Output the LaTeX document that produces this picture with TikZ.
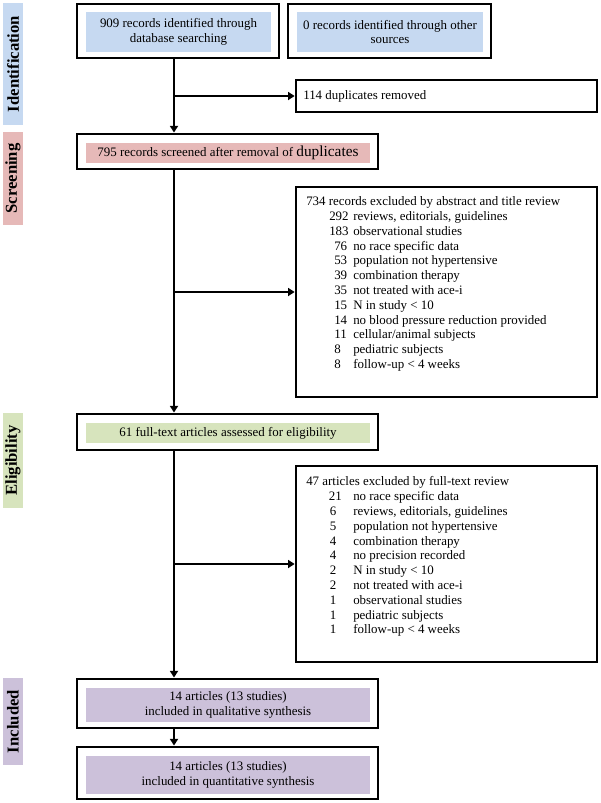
\documentclass[tikz,border=0pt]{standalone}
\usepackage{fontspec}
\setmainfont{Liberation Serif}
\usetikzlibrary{arrows.meta}
\definecolor{cblue}{RGB}{198,217,241}
\definecolor{cpink}{RGB}{230,185,184}
\definecolor{cgreen}{RGB}{215,228,189}
\definecolor{cpurple}{RGB}{204,193,218}
\newcommand\exrow[3]{\hspace*{#1}\makebox[\dimexpr35.25pt-#1\relax][l]{#2}#3}
\begin{document}
\begin{tikzpicture}[x=0.75pt,y=-0.75pt,
  outerbox/.style={draw, line width=2.2pt, inner sep=0pt},
  innerbox/.style={inner sep=0pt, align=center, font=\fontsize{9.7}{11}\selectfont},
  stage/.style={rotate=90, inner sep=0pt, minimum height=15pt, font=\bfseries\fontsize{12.5}{14}\selectfont},
  exclbox/.style={draw, line width=2pt, inner sep=0pt, minimum width=225.75pt},
  extext/.style={inner sep=0pt, align=left, anchor=north west, font=\fontsize{9.7}{11.1}\selectfont},
  arr/.style={line width=1.5pt, -{Triangle[length=5pt,width=6pt]}},
  ln/.style={line width=1.5pt}]
\useasboundingbox (0,0) rectangle (600,803);

% stage labels
\node[stage, fill=cblue,   minimum width=91.5pt]  (sid) at (13,64)    {Identification};
\node[stage, fill=cpink,   minimum width=69.75pt] (ssc) at (13,178.5) {Screening};
\node[stage, fill=cgreen,  minimum width=71.25pt] (sel) at (13,460.5) {Eligibility};
\node[stage, fill=cpurple, minimum width=65.25pt] (sin) at (13,721.5) {Included};

% identification boxes
\node[outerbox, minimum width=151.5pt, minimum height=40.5pt] (A) at (178,31) {};
\node[innerbox, fill=cblue, minimum width=138.75pt, minimum height=30pt] (Ai) at (178.5,32)
  {909 records identified through\\database searching};
\node[outerbox, minimum width=152.25pt, minimum height=40.5pt] (B) at (389.5,31) {};
\node[innerbox, fill=cblue, minimum width=139.5pt, minimum height=30pt] (Bi) at (390,32)
  {0 records identified through other\\sources};

% duplicates removed
\node[exclbox, minimum height=24pt] (D) at (446.5,96) {};
\node[innerbox, anchor=west] (Dt) at (303,96.5) {114 duplicates removed};

% screening
\node[outerbox, minimum width=225.75pt, minimum height=26.25pt] (S) at (227.5,151.5) {};
\node[innerbox, fill=cpink, minimum width=213pt, minimum height=15pt] (Si) at (228,153)
  {795 records screened after removal of {\fontsize{11.5}{12}\selectfont duplicates}};

% exclusion 1
\node[exclbox, minimum height=157.5pt] (E1) at (446.5,292) {};
\node[extext] (E1t) at (306,196.5) {%
734 records excluded by abstract and title review\\
\exrow{17.25pt}{292}{reviews, editorials, guidelines}\\
\exrow{17.25pt}{183}{observational studies}\\
\exrow{21pt}{76}{no race specific data}\\
\exrow{21pt}{53}{population not hypertensive}\\
\exrow{21pt}{39}{combination therapy}\\
\exrow{21pt}{35}{not treated with ace-i}\\
\exrow{21pt}{15}{N in study < 10}\\
\exrow{21pt}{14}{no blood pressure reduction provided}\\
\exrow{21pt}{11}{cellular/animal subjects}\\
\exrow{21pt}{8}{pediatric subjects}\\
\exrow{21pt}{8}{follow-up < 4 weeks}};

% eligibility
\node[outerbox, minimum width=225.75pt, minimum height=27pt] (El) at (227.5,432) {};
\node[innerbox, fill=cgreen, minimum width=213pt, minimum height=15pt] (Eli) at (228,433)
  {61 full-text articles assessed for eligibility};

% exclusion 2
\node[exclbox, minimum height=147pt] (E2) at (446.5,564) {};
\node[extext] (E2t) at (306,476.5) {%
47 articles excluded by full-text review\\
\exrow{17pt}{21}{no race specific data}\\
\exrow{17.75pt}{6}{reviews, editorials, guidelines}\\
\exrow{17.75pt}{5}{population not hypertensive}\\
\exrow{17.75pt}{4}{combination therapy}\\
\exrow{17.75pt}{4}{no precision recorded}\\
\exrow{17.75pt}{2}{N in study < 10}\\
\exrow{17.75pt}{2}{not treated with ace-i}\\
\exrow{17.75pt}{1}{observational studies}\\
\exrow{17.75pt}{1}{pediatric subjects}\\
\exrow{17.75pt}{1}{follow-up < 4 weeks}};

% included
\node[outerbox, minimum width=225.75pt, minimum height=36.75pt] (I1) at (227.5,703.5) {};
\node[innerbox, fill=cpurple, minimum width=213pt, minimum height=25.5pt] (I1i) at (228,705)
  {14 articles (13 studies)\\included in qualitative synthesis};
\node[outerbox, minimum width=225.75pt, minimum height=39pt] (I2) at (227.5,773) {};
\node[innerbox, fill=cpurple, minimum width=213pt, minimum height=28.5pt] (I2i) at (228,775)
  {14 articles (13 studies)\\included in quantitative synthesis};

% connectors
\coordinate (m) at (174,0);
\draw[arr] (A.south -| m) -- (S.north -| m);
\draw[arr] (S.south -| m) -- (El.north -| m);
\draw[arr] (El.south -| m) -- (I1.north -| m);
\draw[arr] (I1.south -| m) -- (I2.north -| m);
\draw[arr] (D.west -| m) -- (D.west);
\draw[arr] (E1.west -| m) -- (E1.west);
\draw[arr] (E2.west -| m) -- (E2.west);
\end{tikzpicture}
\end{document}
